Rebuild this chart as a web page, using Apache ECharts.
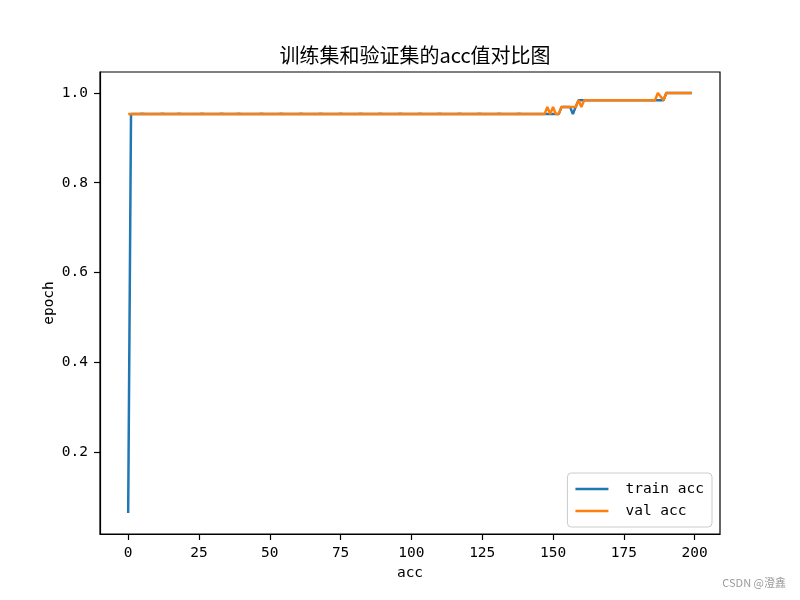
<!DOCTYPE html>
<html>
<head>
<meta charset="utf-8">
<script src="https://cdn.jsdelivr.net/npm/echarts@6/dist/echarts.min.js"></script>
<style>html,body{margin:0;padding:0;background:#fff}#c{width:800px;height:600px}</style>
</head>
<body>
<div id="c"></div>
<script>
const titleText = '训练集和验证集的acc值对比图';
const xName = 'acc';
const yName = 'epoch';
const seriesNames = ['train acc', 'val acc'];
const xTicks = [0, 25, 50, 75, 100, 125, 150, 175, 200];
const yTicks = [0.2, 0.4, 0.6, 0.8, 1.0];

const trainAcc = [
  0.064, 0.953, 0.953, 0.953, 0.953, 0.954, 0.953, 0.953, 0.953, 0.953,
  0.953, 0.953, 0.954, 0.953, 0.953, 0.953, 0.953, 0.953, 0.954, 0.953,
  0.953, 0.953, 0.953, 0.953, 0.953, 0.953, 0.954, 0.953, 0.953, 0.953,
  0.953, 0.953, 0.953, 0.954, 0.953, 0.953, 0.953, 0.953, 0.953, 0.954,
  0.953, 0.953, 0.953, 0.953, 0.953, 0.953, 0.953, 0.954, 0.953, 0.953,
  0.953, 0.953, 0.953, 0.953, 0.954, 0.953, 0.953, 0.953, 0.953, 0.953,
  0.953, 0.954, 0.953, 0.953, 0.953, 0.953, 0.953, 0.953, 0.954, 0.953,
  0.953, 0.953, 0.953, 0.953, 0.953, 0.954, 0.953, 0.953, 0.953, 0.953,
  0.953, 0.953, 0.954, 0.953, 0.953, 0.953, 0.953, 0.953, 0.953, 0.954,
  0.953, 0.953, 0.953, 0.953, 0.953, 0.953, 0.954, 0.953, 0.953, 0.953,
  0.953, 0.953, 0.953, 0.954, 0.953, 0.953, 0.953, 0.953, 0.953, 0.953,
  0.954, 0.953, 0.953, 0.953, 0.953, 0.953, 0.953, 0.954, 0.953, 0.953,
  0.953, 0.953, 0.953, 0.953, 0.954, 0.953, 0.953, 0.953, 0.953, 0.953,
  0.953, 0.954, 0.953, 0.953, 0.953, 0.953, 0.953, 0.953, 0.954, 0.953,
  0.953, 0.953, 0.953, 0.953, 0.953, 0.953, 0.953, 0.953, 0.953, 0.953,
  0.953, 0.953, 0.953, 0.969, 0.969, 0.969, 0.969, 0.953, 0.969, 0.984,
  0.984, 0.984, 0.984, 0.984, 0.984, 0.984, 0.984, 0.984, 0.984, 0.984,
  0.984, 0.984, 0.984, 0.984, 0.984, 0.984, 0.984, 0.984, 0.984, 0.984,
  0.984, 0.984, 0.984, 0.984, 0.984, 0.984, 0.984, 0.984, 0.984, 0.984,
  1.000, 1.000, 1.000, 1.000, 1.000, 1.000, 1.000, 1.000, 1.000, 1.000
];

const valAcc = [
  0.953, 0.953, 0.953, 0.953, 0.953, 0.953, 0.953, 0.953, 0.953, 0.953,
  0.953, 0.953, 0.953, 0.953, 0.953, 0.953, 0.953, 0.953, 0.953, 0.953,
  0.953, 0.953, 0.953, 0.953, 0.953, 0.953, 0.953, 0.953, 0.953, 0.953,
  0.953, 0.953, 0.953, 0.953, 0.953, 0.953, 0.953, 0.953, 0.953, 0.953,
  0.953, 0.953, 0.953, 0.953, 0.953, 0.953, 0.953, 0.953, 0.953, 0.953,
  0.953, 0.953, 0.953, 0.953, 0.953, 0.953, 0.953, 0.953, 0.953, 0.953,
  0.953, 0.953, 0.953, 0.953, 0.953, 0.953, 0.953, 0.953, 0.953, 0.953,
  0.953, 0.953, 0.953, 0.953, 0.953, 0.953, 0.953, 0.953, 0.953, 0.953,
  0.953, 0.953, 0.953, 0.953, 0.953, 0.953, 0.953, 0.953, 0.953, 0.953,
  0.953, 0.953, 0.953, 0.953, 0.953, 0.953, 0.953, 0.953, 0.953, 0.953,
  0.953, 0.953, 0.953, 0.953, 0.953, 0.953, 0.953, 0.953, 0.953, 0.953,
  0.953, 0.953, 0.953, 0.953, 0.953, 0.953, 0.953, 0.953, 0.953, 0.953,
  0.953, 0.953, 0.953, 0.953, 0.953, 0.953, 0.953, 0.953, 0.953, 0.953,
  0.953, 0.953, 0.953, 0.953, 0.953, 0.953, 0.953, 0.953, 0.953, 0.953,
  0.953, 0.953, 0.953, 0.953, 0.953, 0.953, 0.953, 0.953, 0.969, 0.953,
  0.969, 0.953, 0.953, 0.969, 0.969, 0.969, 0.969, 0.969, 0.969, 0.984,
  0.969, 0.984, 0.984, 0.984, 0.984, 0.984, 0.984, 0.984, 0.984, 0.984,
  0.984, 0.984, 0.984, 0.984, 0.984, 0.984, 0.984, 0.984, 0.984, 0.984,
  0.984, 0.984, 0.984, 0.984, 0.984, 0.984, 0.984, 1.000, 0.992, 0.984,
  1.000, 1.000, 1.000, 1.000, 1.000, 1.000, 1.000, 1.000, 1.000, 1.000
];

const colors = ['#1f77b4', '#ff7f0e'];
const mono = '"DejaVu Sans Mono", monospace';

const chart = echarts.init(document.getElementById('c'), null, {renderer: 'canvas'});
const toPairs = arr => arr.map((v, i) => [i, v]);

const option = {
  animation: false,
  backgroundColor: '#fff',
  title: {
    text: titleText,
    left: 410,
    top: 40,
    textAlign: 'center',
    textStyle: {fontFamily: '"Noto Sans CJK SC"', fontSize: 20, fontWeight: 'normal', color: '#000'}
  },
  grid: {
    left: 100, right: 80, top: 72, bottom: 66,
    show: true, borderColor: '#000', borderWidth: 1.2, backgroundColor: 'transparent'
  },
  legend: {
    orient: 'vertical',
    right: 88,
    bottom: 73,
    data: seriesNames,
    icon: 'rect',
    itemWidth: 33,
    itemHeight: 2.5,
    itemGap: 6,
    padding: [8, 8, 8, 8],
    backgroundColor: 'rgba(255,255,255,0.8)',
    borderColor: '#cccccc',
    borderWidth: 1,
    borderRadius: 4,
    textStyle: {fontFamily: mono, fontSize: 14.5, color: '#000', lineHeight: 16, padding: [0, 0, 0, 12]}
  },
  xAxis: {
    type: 'value',
    min: -9.95,
    max: 208.95,
    name: xName,
    nameLocation: 'middle',
    nameGap: 32,
    nameMoveOverlap: false,
    nameTextStyle: {fontFamily: mono, fontSize: 14.5, color: '#000'},
    axisLine: {show: true, onZero: false, lineStyle: {color: '#000', width: 1.2}},
    axisTick: {show: true, inside: false, length: 6, lineStyle: {color: '#000', width: 1.2}, customValues: xTicks},
    axisLabel: {margin: 12, fontFamily: mono, fontSize: 14.5, color: '#000', customValues: xTicks},
    splitLine: {show: false}
  },
  yAxis: {
    type: 'value',
    min: 0.0172,
    max: 1.0468,
    name: yName,
    nameLocation: 'middle',
    nameGap: 43,
    nameRotate: 90,
    nameMoveOverlap: false,
    nameTextStyle: {fontFamily: mono, fontSize: 14.5, color: '#000'},
    axisLine: {show: true, onZero: false, lineStyle: {color: '#000', width: 1.2}},
    axisTick: {show: true, inside: false, length: 6, lineStyle: {color: '#000', width: 1.2}, customValues: yTicks},
    axisLabel: {margin: 12, fontFamily: mono, fontSize: 14.5, color: '#000', customValues: yTicks,
      formatter: v => v.toFixed(1)},
    splitLine: {show: false}
  },
  series: [
    {
      name: seriesNames[0], type: 'line', data: toPairs(trainAcc),
      showSymbol: false, symbol: 'none', color: colors[0],
      lineStyle: {color: colors[0], width: 2.5}, itemStyle: {color: colors[0]}
    },
    {
      name: seriesNames[1], type: 'line', data: toPairs(valAcc),
      showSymbol: false, symbol: 'none', color: colors[1],
      lineStyle: {color: colors[1], width: 2.5}, itemStyle: {color: colors[1]}
    }
  ],
  graphic: [
    {
      type: 'text', right: 14, top: 577,
      style: {text: 'CSDN @澄鑫', fill: '#9a9a9a', fontSize: 11, fontFamily: '"Noto Sans CJK SC", sans-serif'}
    }
  ]
};
chart.setOption(option);
</script>
</body>
</html>
